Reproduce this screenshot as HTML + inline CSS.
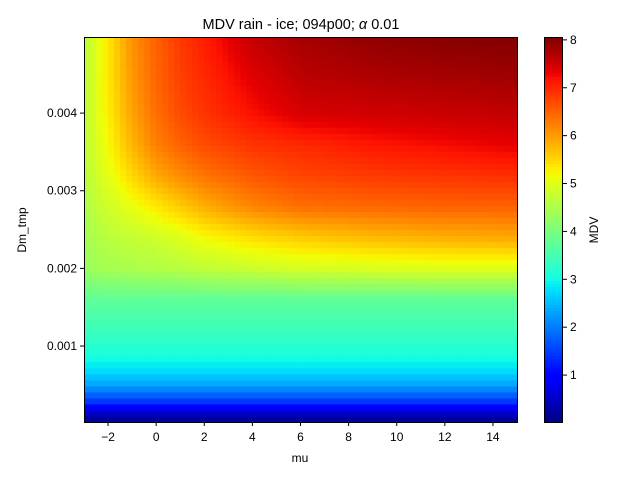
<!DOCTYPE html>
<html><head><meta charset="utf-8"><style>
body{margin:0;background:#fff;}
svg text{font-family:"Liberation Sans","DejaVu Sans",sans-serif;font-size:12px;fill:#000;}
</style></head><body>
<svg id="chart" width="640" height="480">
<text x="301" y="29" text-anchor="middle" style="font-size:14.5px">MDV rain - ice; 094p00; <tspan font-style="italic">α</tspan> 0.01</text>
<g id="cells"></g>
<rect x="84.5" y="37.5" width="433" height="385" fill="none" stroke="#000" stroke-width="1"/>
<g id="axes"></g>
<text x="300" y="462" text-anchor="middle">mu</text>
<text transform="translate(26,230) rotate(-90)" text-anchor="middle">Dm_tmp</text>
<g id="cbar"></g>
<rect x="544.5" y="37.5" width="18" height="385" fill="none" stroke="#000" stroke-width="1"/>
<text transform="translate(598,230) rotate(-90)" text-anchor="middle">MDV</text>
</svg>
<script>
const muValues=[-3,-2.5,-2,-1,0,1,2,4,6,9,12,15];
const dmValues=[0.0,0.0001,0.0002,0.0003,0.0005,0.0007,0.0009,0.0012,0.0016,0.002,0.0024,0.0028,0.0032,0.0036,0.004,0.0045,0.005];
const lowRows=[0.05,0.3,0.8,1.5,2.3,2.8,3.1,3.4,3.75];
const upperByMu=[
[4.3,4.4,4.5,4.6,4.6,4.6,4.6,4.6],
[4.4,4.55,4.7,4.85,4.95,5.0,5.0,5.0],
[4.45,4.65,4.85,5.05,5.2,5.3,5.35,5.35],
[4.5,4.75,5.1,5.5,5.8,5.95,6.05,6.1],
[4.55,4.85,5.35,5.9,6.25,6.4,6.48,6.5],
[4.62,5.0,5.6,6.15,6.5,6.7,6.8,6.85],
[4.7,5.2,5.85,6.35,6.7,6.9,7.0,7.1],
[4.8,5.45,6.2,6.6,6.9,7.2,7.4,7.6],
[4.9,5.6,6.4,6.75,7.0,7.45,7.65,7.8],
[4.95,5.75,6.45,6.85,7.15,7.5,7.75,7.95],
[5.0,5.85,6.5,6.9,7.25,7.55,7.8,8.02],
[5.0,5.9,6.5,6.95,7.35,7.6,7.85,8.05]];
const xTicks=[-2,0,2,4,6,8,10,12,14];
const yTicks=[0.001,0.002,0.003,0.004];
const yTickLabels=["0.001","0.002","0.003","0.004"];
const cTicks=[1,2,3,4,5,6,7,8];
const vmin=0.02,vmax=8.06;

const NS="http://www.w3.org/2000/svg";
const X0=84,X1=517,Y0=37,Y1=422;
const muMin=-3,muMax=15,dMin=0.0000216,dMax=0.00498;
const xs=m=>X0+(m-muMin)/(muMax-muMin)*(X1-X0);
const ys=d=>Y1-(d-dMin)/(dMax-dMin)*(Y1-Y0);
function seg(p,t){for(let k=0;k<p.length-1;k++){if(t<=p[k+1][0]){const a=(t-p[k][0])/(p[k+1][0]-p[k][0]);return p[k][1]+a*(p[k+1][1]-p[k][1]);}}return p[p.length-1][1];}
const RP=[[0,0],[0.35,0],[0.66,1],[0.89,1],[1,0.5]];
const GP=[[0,0],[0.125,0],[0.375,1],[0.64,1],[0.91,0],[1,0]];
const BP=[[0,0.5],[0.11,1],[0.34,1],[0.65,0],[1,0]];
function jet(v){let t=(v-vmin)/(vmax-vmin);t=Math.max(0,Math.min(1,t));
 return `rgb(${Math.round(seg(RP,t)*255)},${Math.round(seg(GP,t)*255)},${Math.round(seg(BP,t)*255)})`;}
function grid(i,j){return j<lowRows.length?lowRows[j]:upperByMu[i][j-lowRows.length];}
function idx(arr,v){let k=0;while(k<arr.length-2&&v>arr[k+1])k++;const t=Math.max(0,Math.min(1,(v-arr[k])/(arr[k+1]-arr[k])));return [k,t];}
function val(m,d){const [i,a]=idx(muValues,m),[j,b]=idx(dmValues,d);
 return grid(i,j)*(1-a)*(1-b)+grid(i+1,j)*a*(1-b)+grid(i,j+1)*(1-a)*b+grid(i+1,j+1)*a*b;}
const cells=document.getElementById('cells');
const nc=72,nr=64,dm=(muMax-muMin)/nc,dd=(dMax-dMin)/nr;
for(let c=0;c<nc;c++)for(let r=0;r<nr;r++){
 const m0=muMin+c*dm,d0=dMin+r*dd;
 const el=document.createElementNS(NS,'rect');
 const x=xs(m0),y=ys(d0+dd);
 el.setAttribute('x',x.toFixed(2));el.setAttribute('y',y.toFixed(2));
 el.setAttribute('width',(xs(m0+dm)-x+0.5).toFixed(2));el.setAttribute('height',(ys(d0)-y+0.5).toFixed(2));
 el.setAttribute('fill',jet(val(m0+dm/2,d0+dd/2)));
 
 
 cells.appendChild(el);}
const axes=document.getElementById('axes');
function add(tag,attrs,text){const e=document.createElementNS(NS,tag);for(const k in attrs)e.setAttribute(k,attrs[k]);if(text!==undefined)e.textContent=text;axes.appendChild(e);return e;}
xTicks.forEach(t=>{const x=xs(t);
 const l=add('line',{x1:x,x2:x,y1:422,y2:426,stroke:'#000'});
 
 
 const tx=add('text',{x:x,y:441,'text-anchor':'middle'},t<0?'−'+(-t):String(t));
 
 });
yTicks.forEach((t,k)=>{const y=ys(t);
 const l=add('line',{x1:80,x2:84,y1:y,y2:y,stroke:'#000'});
 
 
 const tx=add('text',{x:77,y:y+4,'text-anchor':'end'},yTickLabels[k]);
 
 });
const cbar=document.getElementById('cbar');
const cy=v=>422-(v-vmin)/(vmax-vmin)*385;
for(let k=0;k<128;k++){const v0=vmin+k*(vmax-vmin)/128,v1=vmin+(k+1)*(vmax-vmin)/128;
 const e=document.createElementNS(NS,'rect');
 e.setAttribute('x',544);e.setAttribute('y',cy(v1).toFixed(2));e.setAttribute('width',19);e.setAttribute('height',(cy(v0)-cy(v1)+0.5).toFixed(2));
 e.setAttribute('fill',jet((v0+v1)/2));
 
 
 cbar.appendChild(e);}
cTicks.forEach(t=>{const y=cy(t);
 const l=add('line',{x1:563,x2:567,y1:y,y2:y,stroke:'#000'});
 
 
 const tx=add('text',{x:570,y:y+4},String(t));
 
 });
</script>
</body></html>
